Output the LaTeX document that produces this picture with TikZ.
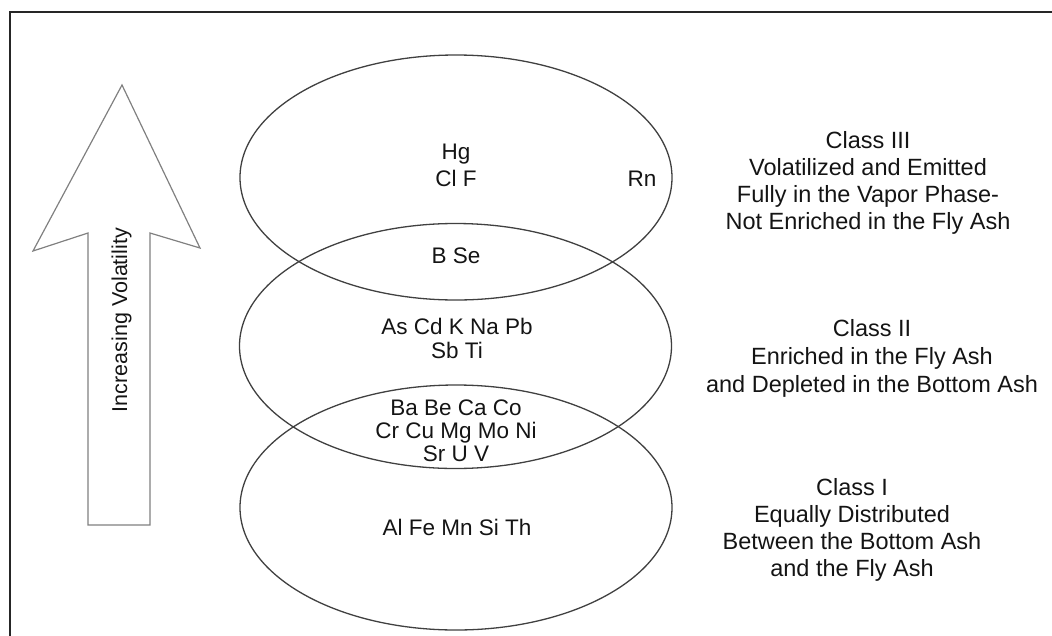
\documentclass[tikz,border=0pt]{standalone}
\usepackage{fontspec}
\setmainfont{Liberation Sans}
\usetikzlibrary{shapes.geometric}

% centred stack of lines; first argument is the font size, second the line pitch
\newcommand\linesat[3]{\fontsize{#1}{#2}\selectfont\begin{tabular}[t]{@{}c@{}}#3\end{tabular}}

\begin{document}
\begin{tikzpicture}[x=1pt,y=-1pt,
  frameline/.style={line width=2pt, draw=black!85, line cap=rect},
  zone/.style={draw=black!75, line width=1.3pt, ellipse, minimum width=432pt,
    minimum height=245pt, inner sep=0pt, outer sep=0pt},
  volarrow/.style={draw=black!50, line width=1.2pt, line join=miter},
  lbl/.style={inner sep=0pt, outer sep=0pt, anchor=base, text=black!92},
]
\useasboundingbox (0,0) rectangle (1052,635);

% open frame: top and left edges
\coordinate (fl) at (10,635);
\coordinate (fc) at (10,12);
\coordinate (fr) at (1060,12);
\draw[frameline] (fl) -- (fc) -- (fr);

% volatility arrow
\draw[volarrow] (88,525) -- (88,233) -- (33,251) -- (122,85) -- (200,248)
  -- (150,233) -- (150,525) -- cycle;
\node[lbl, rotate=90] (vol) at (127,320)
  {\linesat{21.5}{26}{Increasing Volatility}};

% three overlapping zones
\node[zone] (z3) at (456,177.5) {};
\node[zone] (z2) at (455.5,346) {};
\node[zone] (z1) at (456,507.5) {};

% elements in the zones
\node[lbl] (hg) at (456,159) {\linesat{22.5}{27}{Hg\\Cl F}};
\node[lbl] (rn) at (642,186) {\linesat{22.5}{27}{Rn}};
\node[lbl] (bse) at (456,263) {\linesat{22.5}{27}{B Se}};
\node[lbl] (ascd) at (457,334) {\linesat{22.5}{24}{As Cd K Na Pb\\Sb Ti}};
\node[lbl] (babe) at (456,415) {\linesat{22.5}{23.3}{Ba Be Ca Co\\Cr Cu Mg Mo Ni\\Sr U V}};
\node[lbl] (alfe) at (457,535) {\linesat{22.5}{27}{Al Fe Mn Si Th}};

% class descriptions
\node[lbl] (c3) at (868,148) {\linesat{23.5}{27.3}{Class III\\Volatilized and Emitted\\Fully in the Vapor Phase-\\Not Enriched in the Fly Ash}};
\node[lbl] (c2) at (872,336) {\linesat{23.5}{28}{Class II\\Enriched in the Fly Ash\\and Depleted in the Bottom Ash}};
\node[lbl] (c1) at (852,495) {\linesat{23.5}{27.2}{Class I\\Equally Distributed\\Between the Bottom Ash\\and the Fly Ash}};
\end{tikzpicture}
\end{document}
